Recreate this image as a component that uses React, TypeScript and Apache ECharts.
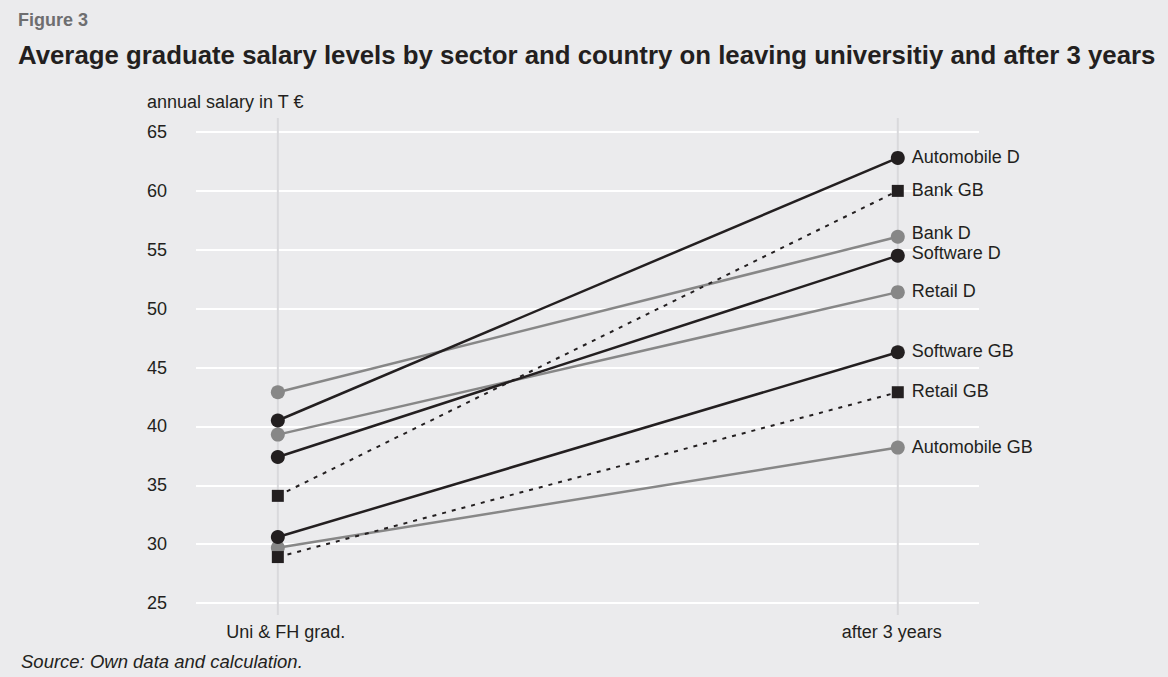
import React, { useEffect, useRef } from "react";
import * as echarts from "echarts";

const categories = ["Uni & FH grad.", "after 3 years"];
const yTicks = { min: 25, max: 65, step: 5 };

const seriesNames = [
  "Automobile D",
  "Bank GB",
  "Bank D",
  "Software D",
  "Retail D",
  "Software GB",
  "Retail GB",
  "Automobile GB",
];
const startValues = [40.5, 34.1, 42.9, 37.4, 39.3, 30.6, 28.9, 29.7];
const endValues = [62.8, 60.0, 56.1, 54.5, 51.4, 46.3, 42.9, 38.2];
const seriesKinds = ["black", "dashed", "grey", "black", "grey", "black", "dashed", "grey"];

// small vertical nudges of the end labels (style only)
const labelNudge = [-1, -1, -4, -3, -1, -1, -1, -1];
// horizontal nudges of the category labels (style only)
const catPad = [
  [0, 0, 0, 16],
  [0, 12, 0, 0],
];

const BLACK = "#231f20";
const GREY = "#878787";
const FONT = "'Liberation Sans', Arial, sans-serif";

export default function App() {
  const ref = useRef<HTMLDivElement>(null);
  useEffect(() => {
    document.body.style.margin = "0";
    const chart = echarts.init(ref.current!, undefined, { renderer: "svg" });
    const xMin = -0.132;
    const xMax = 1.131;
    const series: any[] = seriesNames.map((name, i) => {
      const kind = seriesKinds[i];
      const color = kind === "grey" ? GREY : BLACK;
      return {
        type: "line",
        name,
        xAxisIndex: 0,
        yAxisIndex: 0,
        data: [
          [0, startValues[i]],
          [1, endValues[i]],
        ],
        symbol: kind === "dashed" ? "rect" : "circle",
        symbolSize: kind === "dashed" ? 12 : 14,
        itemStyle: { color },
        lineStyle: {
          color,
          width: kind === "dashed" ? 2 : 2.5,
          type: kind === "dashed" ? [4, 6] : "solid",
        },
        z: kind === "grey" ? 3 : 4,
        endLabel: {
          show: true,
          formatter: "{a}",
          distance: 14,
          offset: [0, labelNudge[i]],
          color: BLACK,
          fontSize: 18,
          fontFamily: FONT,
        },
      };
    });
    // vertical reference lines at each category
    categories.forEach((_, ci) => {
      series.push({
        type: "line",
        xAxisIndex: 1,
        yAxisIndex: 1,
        data: [
          [ci, 0],
          [ci, 1],
        ],
        symbol: "none",
        silent: true,
        lineStyle: { color: "#d9d9dc", width: 2 },
        z: 1,
      });
    });

    const rich: any = {};
    catPad.forEach((p, i) => {
      rich["c" + i] = { padding: p, color: BLACK, fontSize: 18, fontFamily: FONT };
    });

    chart.setOption({
      animation: false,
      backgroundColor: "#ebebed",
      title: [
        {
          text: "Figure 3",
          left: 18,
          top: 11,
          padding: 0,
          textStyle: { fontFamily: FONT, fontSize: 18, fontWeight: "bold", color: "#6e6e70" },
        },
        {
          text: "Average graduate salary levels by sector and country on leaving universitiy and after 3 years",
          left: 18,
          top: 42,
          padding: 0,
          textStyle: { fontFamily: FONT, fontSize: 25.8, fontWeight: "bold", color: BLACK },
        },
        {
          text: "annual salary in T €",
          left: 147,
          top: 93,
          padding: 0,
          textStyle: { fontFamily: FONT, fontSize: 18, fontWeight: "normal", color: BLACK },
        },
        {
          text: "Source: Own data and calculation.",
          left: 21,
          top: 652,
          padding: 0,
          textStyle: {
            fontFamily: FONT,
            fontSize: 18.5,
            fontWeight: "normal",
            fontStyle: "italic",
            color: BLACK,
          },
        },
      ],
      grid: [
        { left: 196, right: 189, top: 132, bottom: 74 },
        { left: 196, right: 189, top: 118, bottom: 62 },
      ],
      xAxis: [
        {
          type: "value",
          gridIndex: 0,
          min: xMin,
          max: xMax,
          axisLine: { show: false },
          axisTick: { show: false },
          splitLine: { show: false },
          axisLabel: {
            customValues: [0, 1],
            formatter: (v: number) => {
              const i = Math.round(v);
              return categories[i] !== undefined ? `{c${i}|${categories[i]}}` : "";
            },
            rich,
            color: BLACK,
            fontSize: 18,
            fontFamily: FONT,
            margin: 20,
          },
        },
        {
          type: "value",
          gridIndex: 1,
          min: xMin,
          max: xMax,
          show: false,
        },
      ],
      yAxis: [
        {
          type: "value",
          gridIndex: 0,
          min: yTicks.min,
          max: yTicks.max,
          interval: yTicks.step,
          axisLine: { show: false },
          axisTick: { show: false },
          splitLine: { lineStyle: { color: "#ffffff", width: 2 } },
          axisLabel: { color: BLACK, fontSize: 18, fontFamily: FONT, margin: 29 },
        },
        { type: "value", gridIndex: 1, min: 0, max: 1, show: false },
      ],
      series,
    });
    return () => chart.dispose();
  }, []);
  return <div ref={ref} style={{ width: 1168, height: 677 }} />;
}
